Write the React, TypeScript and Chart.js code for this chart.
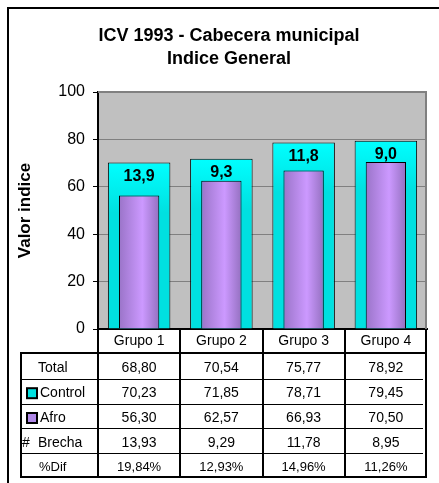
import React, { useEffect, useRef } from 'react';
import { Chart, registerables } from 'chart.js';

Chart.register(...registerables);

// ---- data ----
const categories = ['Grupo 1', 'Grupo 2', 'Grupo 3', 'Grupo 4'];
const totalValues = [68.8, 70.54, 75.77, 78.92];
const controlValues = [70.23, 71.85, 78.71, 79.45];
const afroValues = [56.3, 62.57, 66.93, 70.5];
const brechaValues = [13.93, 9.29, 11.78, 8.95];
const difPercent = [19.84, 12.93, 14.96, 11.26];
const titleLines = ['ICV 1993 - Cabecera municipal', 'Indice General'];
const yAxisTitle = 'Valor indice';

const FONT = '"Liberation Sans", Arial, Helvetica, sans-serif';
const CYAN = '#00E0E0';
const CYAN_LIGHT = '#00FFFF';
const PURPLE = '#CC99FF';
const PURPLE_DARK = '#9A74C8';

const fmt2 = (v: number) => v.toFixed(2).replace('.', ',');
const fmt1 = (v: number) =>
  (Math.round(Math.round(v * 100) / 10) / 10).toFixed(1).replace('.', ',');
const fmtPct = (v: number) => fmt2(v) + '%';

type Row = { label: string; values: number[]; fmt: (v: number) => string; key?: string; prefix?: string; size?: number; textX: number };
const tableRows: Row[] = [
  { label: 'Total', values: totalValues, fmt: fmt2, textX: 38 },
  { label: 'Control', values: controlValues, fmt: fmt2, key: CYAN, textX: 40 },
  { label: 'Afro', values: afroValues, fmt: fmt2, key: '#B088E8', textX: 40 },
  { label: 'Brecha', values: brechaValues, fmt: fmt2, prefix: '#', textX: 38 },
  { label: '%Dif', values: difPercent, fmt: fmtPct, size: 13, textX: 39 },
];

const TABLE_LEFT = 20;
const ROW_H = 24.8;

const customPlugin = {
  id: 'custom',
  beforeDraw(chart: any) {
    const { ctx, chartArea: a } = chart;
    ctx.save();
    ctx.fillStyle = '#ffffff';
    ctx.fillRect(0, 0, chart.width, chart.height);
    ctx.fillStyle = '#C0C0C0';
    ctx.fillRect(a.left, a.top, a.right - a.left, a.bottom - a.top);
    ctx.restore();
  },
  afterDatasetsDraw(chart: any) {
    const { ctx } = chart;
    const meta = chart.getDatasetMeta(1);
    ctx.save();
    ctx.font = 'bold 16px ' + FONT;
    ctx.fillStyle = '#000';
    ctx.textAlign = 'center';
    ctx.textBaseline = 'middle';
    meta.data.forEach((bar: any, i: number) => {
      ctx.fillText(fmt1(brechaValues[i]), bar.x, bar.y + 14);
    });
    ctx.restore();
  },
  afterDraw(chart: any) {
    const { ctx, chartArea: a } = chart;
    const xs = chart.scales.x;
    ctx.save();
    // plot right/top border
    ctx.strokeStyle = '#808080';
    ctx.lineWidth = 2;
    ctx.beginPath();
    ctx.moveTo(a.right - 1, a.top);
    ctx.lineTo(a.right - 1, a.bottom);
    ctx.moveTo(a.left, a.top);
    ctx.lineTo(a.right, a.top);
    ctx.stroke();

    // frame
    ctx.strokeStyle = '#000';
    ctx.lineWidth = 2;
    ctx.beginPath();
    ctx.moveTo(8, chart.height);
    ctx.lineTo(8, 8);
    ctx.lineTo(chart.width, 8);
    ctx.stroke();

    // title
    ctx.fillStyle = '#000';
    ctx.font = 'bold 18px ' + FONT;
    ctx.textAlign = 'center';
    ctx.textBaseline = 'alphabetic';
    ctx.fillText(titleLines[0], 229, 41);
    ctx.fillText(titleLines[1], 229, 64);

    // data table
    const n = categories.length;
    const cw = (xs.right - xs.left) / n;
    const headerTop = a.bottom;
    const tableTop = xs.bottom;
    const tableBottom = tableTop + ROW_H * tableRows.length;
    const right = xs.right;

    ctx.lineWidth = 1;
    ctx.beginPath();
    for (let r = 1; r < tableRows.length; r++) {
      const y = Math.round(tableTop + r * ROW_H) + 1.5;
      ctx.moveTo(TABLE_LEFT + 2, y);
      ctx.lineTo(right - 4, y);
    }
    ctx.stroke();

    ctx.lineWidth = 2;
    ctx.beginPath();
    for (let i = 0; i <= n; i++) {
      const x = Math.round(xs.left + i * cw) - (i === n ? 1 : 0);
      ctx.moveTo(x, headerTop);
      ctx.lineTo(x, tableBottom);
    }
    ctx.moveTo(TABLE_LEFT, tableTop);
    ctx.lineTo(right, tableTop);
    ctx.moveTo(TABLE_LEFT, tableBottom);
    ctx.lineTo(right, tableBottom);
    ctx.moveTo(TABLE_LEFT + 1, tableTop);
    ctx.lineTo(TABLE_LEFT + 1, tableBottom);
    ctx.stroke();

    ctx.textBaseline = 'middle';
    tableRows.forEach((row, r) => {
      const yc = tableTop + r * ROW_H + ROW_H / 2 + 3;
      ctx.font = (row.size || 14) + 'px ' + FONT;
      ctx.fillStyle = '#000';
      ctx.textAlign = 'center';
      row.values.forEach((v, i) => {
        ctx.fillText(row.fmt(v), xs.getPixelForValue(i), yc);
      });
      ctx.textAlign = 'left';
      ctx.fillText(row.label, row.textX, yc);
      if (row.prefix) ctx.fillText(row.prefix, 22, yc);
      if (row.key) {
        ctx.fillStyle = row.key;
        ctx.fillRect(27, yc - 5, 10, 10);
        ctx.lineWidth = 2;
        ctx.strokeStyle = '#000';
        ctx.strokeRect(27, yc - 5, 10, 10);
      }
    });
    ctx.restore();
  },
};

export default function App() {
  const ref = useRef<HTMLCanvasElement | null>(null);
  useEffect(() => {
    if (!ref.current) return;
    Chart.defaults.font.family = FONT;
    Chart.defaults.color = '#000';
    const chart = new Chart(ref.current, {
      type: 'bar',
      data: {
        labels: categories,
        datasets: [
          {
            label: 'Afro',
            data: afroValues,
            order: 0,
            grouped: false,
            barPercentage: 0.49,
            categoryPercentage: 1,
            borderColor: '#000',
            borderWidth: 1,
            backgroundColor: (c: any) => {
              const ch = c.chart;
              const xs = ch.scales && ch.scales.x;
              if (!xs || c.dataIndex === undefined || !ch.chartArea) return PURPLE;
              const xc = xs.getPixelForValue(c.dataIndex);
              const w = ((xs.right - xs.left) / categories.length) * 0.49;
              const g = ch.ctx.createLinearGradient(xc - w / 2, 0, xc + w / 2, 0);
              g.addColorStop(0, PURPLE_DARK);
              g.addColorStop(0.58, PURPLE);
              g.addColorStop(1, '#9470C0');
              return g;
            },
          } as any,
          {
            label: 'Control',
            data: controlValues,
            order: 1,
            grouped: false,
            barPercentage: 0.76,
            categoryPercentage: 1,
            borderColor: '#000',
            borderWidth: 1,
            backgroundColor: (c: any) => {
              const ch = c.chart;
              const ys = ch.scales && ch.scales.y;
              if (!ys || c.dataIndex === undefined || !ch.chartArea) return CYAN;
              const top = ys.getPixelForValue(controlValues[c.dataIndex]);
              const g = ch.ctx.createLinearGradient(0, top, 0, top + 50);
              g.addColorStop(0, CYAN_LIGHT);
              g.addColorStop(1, CYAN);
              return g;
            },
          } as any,
        ],
      },
      options: {
        animation: false,
        responsive: false,
        maintainAspectRatio: false,
        layout: { padding: { left: 0, top: 92, right: 12, bottom: 130 } },
        plugins: { legend: { display: false }, title: { display: false }, tooltip: { enabled: false } },
        scales: {
          x: {
            grid: { display: false, drawTicks: false, tickLength: 0 },
            border: { display: true, color: '#000', width: 2 },
            ticks: { font: { size: 14 }, color: '#000', padding: 4, autoSkip: false, maxRotation: 0 },
            afterFit: (s: any) => { s.height = 24; },
          },
          y: {
            min: 0,
            max: 100,
            ticks: { stepSize: 20, font: { size: 16 }, color: '#000', padding: 8 },
            grid: { color: '#808080', lineWidth: 1, tickColor: '#000', tickLength: 5, drawTicks: true },
            border: { display: true, color: '#000', width: 2 },
            title: { display: true, text: yAxisTitle, font: { size: 17, weight: 'bold' }, color: '#000', padding: { top: 15, bottom: 0 } },
            afterFit: (s: any) => { s.width = 98; },
          },
        },
      },
      plugins: [customPlugin],
    } as any);
    return () => chart.destroy();
  }, []);
  return (
    <div style={{ position: 'fixed', left: 0, top: 0, width: 439, height: 483 }}>
      <canvas ref={ref} width={439} height={483} style={{ display: 'block', width: 439, height: 483 }} />
    </div>
  );
}
